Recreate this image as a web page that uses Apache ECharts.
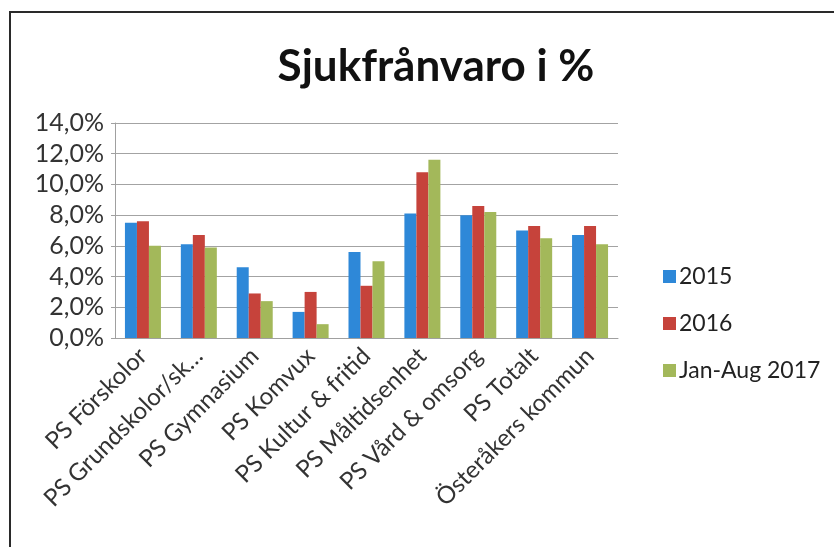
<!DOCTYPE html>
<html>
<head>
<meta charset="utf-8">
<script src="https://fastly.jsdelivr.net/npm/echarts@6/dist/echarts.min.js"></script>
<style>
  html, body { margin: 0; padding: 0; background: #fff; }
  #chart { width: 834px; height: 547px; }
</style>
</head>
<body>
<div id="chart"></div>
<script>
// kategorier och värden (sjukfrånvaro i %)
const categories = [
  "PS Förskolor",
  "PS Grundskolor/sk…",
  "PS Gymnasium",
  "PS Komvux",
  "PS Kultur & fritid",
  "PS Måltidsenhet",
  "PS Vård & omsorg",
  "PS Totalt",
  "Österåkers kommun",
];
const seriesNames = ["2015", "2016", "Jan-Aug 2017"];
const values2015 = [7.5, 6.1, 4.6, 1.7, 5.6, 8.1, 8.0, 7.0, 6.7];
const values2016 = [7.6, 6.7, 2.9, 3.0, 3.4, 10.8, 8.6, 7.3, 7.3];
const values2017 = [6.0, 5.9, 2.4, 0.9, 5.0, 11.6, 8.2, 6.5, 6.1];

const colors = ["#2e88d8", "#c6433b", "#a3b85a"];
const font = "Lato, 'Open Sans', sans-serif";

const chart = echarts.init(document.getElementById("chart"));

const fmt = (v) => v.toFixed(1).replace(".", ",") + "%";

chart.setOption({
  animation: false,
  backgroundColor: "#ffffff",
  color: colors,
  title: {
    text: "Sjukfrånvaro i %",
    left: 431,
    top: 40,
    textAlign: "center",
    textStyle: {
      fontFamily: font,
      fontWeight: "bold",
      fontSize: 44,
      color: "#111",
    },
  },
  graphic: [
    {
      type: "rect",
      shape: { x: 10, y: 12, width: 840, height: 560 },
      style: { fill: "none", stroke: "#2a2a2a", lineWidth: 2 },
      silent: true,
    },
  ],
  legend: {
    orient: "vertical",
    left: 658,
    top: 260,
    itemWidth: 13,
    itemHeight: 13,
    itemGap: 24,
    icon: "rect",
    textStyle: { fontFamily: font, fontSize: 23, color: "#222", padding: [0, 0, 0, -2] },
    data: seriesNames,
  },
  grid: {
    left: 115,
    right: 216,
    top: 123,
    bottom: 209,
  },
  xAxis: {
    type: "category",
    data: categories,
    axisLine: { lineStyle: { color: "#a0a0a0", width: 1 } },
    axisTick: { show: false },
    axisLabel: {
      rotate: 45,
      interval: 0,
      margin: 14,
      fontFamily: font,
      fontSize: 24,
      color: "#333",
    },
  },
  yAxis: {
    type: "value",
    min: 0,
    max: 14,
    interval: 2,
    axisLine: { show: true, lineStyle: { color: "#a0a0a0" } },
    axisTick: { show: true, length: 4, lineStyle: { color: "#a0a0a0" } },
    splitLine: { lineStyle: { color: "#a3a3a3", width: 1 } },
    axisLabel: {
      formatter: fmt,
      margin: 11,
      fontFamily: font,
      fontSize: 25,
      color: "#333",
    },
  },
  series: [
    { name: seriesNames[0], type: "bar", data: values2015, barWidth: 12, barGap: "0%" },
    { name: seriesNames[1], type: "bar", data: values2016, barWidth: 12, barGap: "0%" },
    { name: seriesNames[2], type: "bar", data: values2017, barWidth: 12, barGap: "0%" },
  ],
});
</script>
</body>
</html>
